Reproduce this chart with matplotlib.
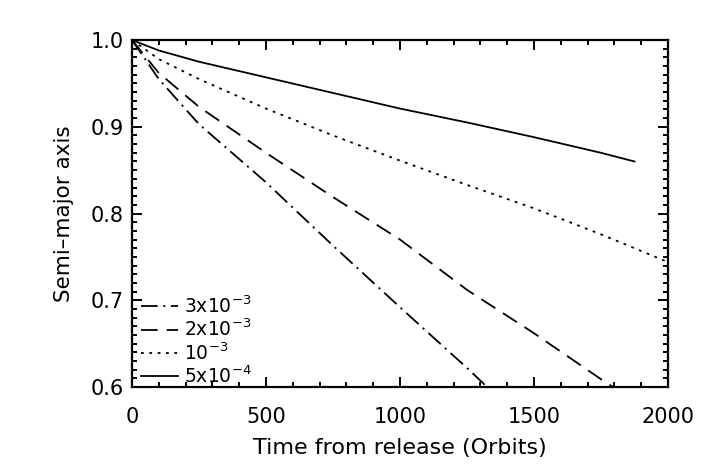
import numpy as np
import matplotlib
matplotlib.use("Agg")
import matplotlib.pyplot as plt
from matplotlib.ticker import MultipleLocator, FormatStrFormatter

plt.rcParams['font.family'] = ['DejaVu Sans']
plt.rcParams['mathtext.fontset'] = 'dejavusans'
plt.rcParams['lines.scale_dashes'] = False

# orbits since release vs semi-major axis
t_3e3 = [0, 100, 250, 500, 750, 1000, 1250, 1325]
a_3e3 = [1.0, 0.955, 0.903, 0.836, 0.763, 0.692, 0.622, 0.600]

t_2e3 = [0, 100, 250, 500, 750, 1000, 1250, 1500, 1750, 1795]
a_2e3 = [1.0, 0.962, 0.923, 0.870, 0.819, 0.770, 0.712, 0.662, 0.609, 0.600]

t_1e3 = [0, 100, 250, 500, 750, 1000, 1250, 1500, 1750, 2000]
a_1e3 = [1.0, 0.978, 0.955, 0.921, 0.890, 0.861, 0.833, 0.806, 0.776, 0.744]

t_5e4 = [0, 100, 250, 500, 750, 1000, 1250, 1500, 1750, 1875]
a_5e4 = [1.0, 0.988, 0.975, 0.957, 0.939, 0.921, 0.905, 0.888, 0.870, 0.860]

labels = [r'3x10$^{-3}$', r'2x10$^{-3}$', r'10$^{-3}$', r'5x10$^{-4}$']

fig = plt.figure(figsize=(7.08, 4.71), dpi=100)
ax = fig.add_axes([0.1864, 0.1783, 0.7571, 0.7367])

lw = 1.3
ax.plot(t_3e3, a_3e3, color='black', lw=lw, dashes=(12, 4, 1.5, 4), label=labels[0])
ax.plot(t_2e3, a_2e3, color='black', lw=lw, dashes=(12, 6.5), label=labels[1])
ax.plot(t_1e3, a_1e3, color='black', lw=lw, dashes=(2, 4), label=labels[2])
ax.plot(t_5e4, a_5e4, color='black', lw=lw, label=labels[3])

ax.set_xlim(0, 2000)
ax.set_ylim(0.6, 1.0)
ax.xaxis.set_major_locator(MultipleLocator(500))
ax.xaxis.set_minor_locator(MultipleLocator(100))
ax.yaxis.set_major_locator(MultipleLocator(0.1))
ax.yaxis.set_minor_locator(MultipleLocator(0.01))
ax.yaxis.set_major_formatter(FormatStrFormatter('%.1f'))

ax.tick_params(which='both', direction='in', top=True, right=True, width=1.4)
ax.tick_params(which='major', length=7.2, labelsize=15)
ax.tick_params(axis='x', which='major', pad=14.5)
ax.tick_params(axis='y', which='major', pad=6)
ax.tick_params(which='minor', length=3.6)
for s in ax.spines.values():
    s.set_linewidth(1.6)

ax.set_xlabel('Time from release (Orbits)', fontsize=16, labelpad=8)
ax.set_ylabel('Semi\u2013major axis', fontsize=15.5, labelpad=12)

fig.canvas.draw()
ylabs = ax.get_yticklabels()
ylabs[0].set_verticalalignment('bottom')
ylabs[-1].set_verticalalignment('top')

ax.legend(loc='lower left', bbox_to_anchor=(0.0168, 0.0), frameon=False,
          fontsize=13.5, handlelength=2.0, handletextpad=0.27,
          labelspacing=0.1, borderaxespad=0, borderpad=0)

fig.savefig('out.png', dpi=100)
